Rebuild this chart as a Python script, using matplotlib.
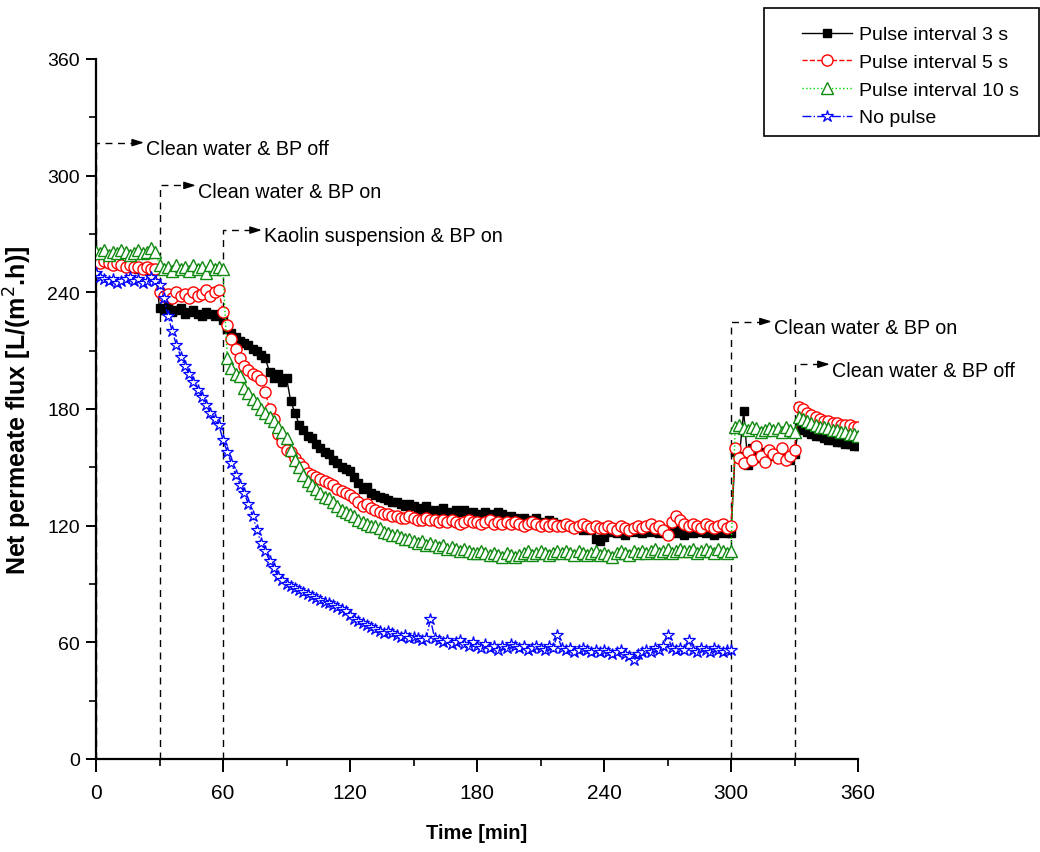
import matplotlib
matplotlib.use("Agg")
import matplotlib.pyplot as plt
from matplotlib.patches import Rectangle

# Datos (flujo neto en L/(m2.h), cada 2 min)
tiempo = list(range(0, 361, 2))
tiempo_sin_pulso = list(range(0, 301, 2))

pulso_3s = [
    257, 256, 255, 256, 254, 255, 254, 253, 254, 253,   # 0
    252, 253, 252, 251, 252, 232, 231, 233, 230, 231,   # 20
    232, 229, 230, 231, 229, 228, 230, 229, 228, 229,   # 40
    226, 221, 219, 217, 215, 214, 213, 211, 210, 208,   # 60
    206, 199, 196, 198, 194, 196, 184, 178, 172, 169,   # 80
    166, 165, 162, 160, 158, 157, 154, 152, 150, 149,   # 100
    148, 145, 142, 139, 140, 137, 136, 135, 134, 133,   # 120
    132, 132, 131, 130, 131, 130, 129, 128, 130, 128,   # 140
    127, 128, 129, 127, 126, 128, 127, 128, 126, 127,   # 160
    126, 125, 127, 126, 125, 127, 126, 124, 125, 124,   # 180
    123, 124, 122, 123, 124, 122, 121, 123, 122, 121,   # 200
    120, 121, 120, 119, 120, 118, 119, 118, 113, 112,   # 220
    114, 118, 117, 116, 118, 115, 117, 118, 117, 116,   # 240
    118, 117, 119, 116, 117, 118, 117, 116, 118, 115,   # 260
    117, 116, 118, 117, 116, 117, 115, 116, 117, 116,   # 280
    116, 158, 156, 179, 151, 160, 157, 155, 158, 156,   # 300
    157, 155, 158, 156, 154, 157, 170, 169, 168, 167,   # 320
    166, 166, 165, 164, 164, 163, 163, 162, 162, 161,   # 340
    161,
]
pulso_5s = [
    256, 255, 256, 255, 254, 255, 254, 253, 254, 253,
    253, 252, 253, 252, 252, 240, 238, 239, 237, 240,
    238, 239, 237, 240, 238, 239, 241, 238, 240, 241,
    230, 223, 216, 211, 206, 202, 200, 198, 197, 195,
    189, 180, 175, 167, 163, 159, 158, 155, 152, 150,
    147, 146, 145, 144, 143, 142, 141, 139, 138, 137,
    136, 134, 132, 130, 131, 129, 128, 127, 126, 126,
    125, 125, 124, 124, 125, 124, 123, 123, 124, 123,
    123, 122, 123, 122, 123, 122, 121, 122, 123, 122,
    122, 121, 122, 123, 121, 122, 121, 122, 121, 122,
    121, 120, 121, 122, 121, 120, 121, 120, 121, 120,
    120, 121, 120, 119, 120, 121, 120, 119, 120, 119,
    119, 120, 119, 118, 120, 119, 118, 119, 120, 119,
    120, 121, 119, 120, 118, 115, 122, 125, 123, 121,
    120, 121, 120, 119, 121, 120, 119, 120, 121, 119,
    120, 160, 155, 152, 158, 154, 161, 156, 153, 159,
    157, 155, 160, 154, 156, 159, 181, 180, 178, 177,
    176, 175, 174, 174, 173, 173, 172, 172, 172, 171,
    171,
]
pulso_10s = [
    261, 260, 262, 259, 261, 260, 262, 261, 259, 260,
    262, 260, 261, 263, 261, 254, 252, 253, 251, 254,
    252, 253, 251, 254, 252, 253, 250, 254, 252, 253,
    252, 206, 201, 198, 197, 191, 188, 185, 183, 180,
    178, 176, 174, 171, 168, 165, 159, 154, 150, 146,
    143, 141, 139, 137, 135, 134, 132, 130, 128, 127,
    126, 125, 123, 122, 121, 120, 120, 119, 117, 116,
    115, 115, 114, 113, 113, 112, 111, 112, 110, 111,
    110, 109, 110, 108, 109, 108, 107, 108, 107, 106,
    106, 107, 106, 105, 106, 105, 104, 106, 105, 104,
    105, 106, 107, 105, 106, 107, 106, 105, 106, 107,
    106, 107, 106, 105, 107, 106, 105, 106, 107, 105,
    106, 105, 104, 106, 107, 106, 105, 107, 106, 107,
    106, 107, 108, 106, 107, 108, 106, 107, 108, 107,
    107, 108, 106, 107, 108, 107, 106, 108, 107, 106,
    107, 171, 172, 170, 169, 171, 170, 168, 169, 170,
    169, 170, 168, 171, 169, 168, 176, 175, 174, 173,
    172, 171, 171, 170, 169, 169, 168, 168, 167, 167,
    166,
]
sin_pulso = [
    250, 248, 247, 246, 247, 245, 246, 247, 248, 246,
    247, 245, 246, 248, 246, 244, 237, 228, 220, 213,
    207, 202, 198, 194, 190, 186, 182, 178, 175, 172,
    164, 158, 152, 146, 141, 137, 131, 125, 118, 111,
    107, 102, 98, 94, 92, 90, 89, 88, 87, 86,
    85, 84, 83, 82, 81, 80, 79, 78, 77, 76,
    74, 72, 71, 70, 69, 68, 67, 66, 65, 66,
    65, 64, 63, 64, 62, 63, 62, 61, 62, 72,
    62, 61, 60, 61, 59, 60, 61, 59, 58, 60,
    58, 57, 59, 57, 58, 56, 58, 57, 59, 58,
    57, 58, 56, 57, 58, 57, 56, 58, 57, 64,
    57, 56, 57, 55, 56, 57, 56, 55, 56, 55,
    56, 55, 54, 55, 56, 54, 53, 51, 54, 55,
    56, 55, 57, 56, 58, 64, 57, 56, 57, 56,
    61, 56, 55, 57, 56, 55, 57, 56, 55, 56,
    56,
]

# Anotaciones: tiempo del cambio, altura de la flecha, texto
cambios_t = [0, 30, 60, 300, 330]
cambios_y = [317, 295, 272, 225, 203]
cambios_txt = ["Clean water & BP off", "Clean water & BP on",
               "Kaolin suspension & BP on", "Clean water & BP on",
               "Clean water & BP off"]
largo_flecha = [22.7, 17.2, 18.4, 19.3, 16.7]

plt.rcParams["font.family"] = ["Liberation Sans", "DejaVu Sans"]

fig = plt.figure(figsize=(10.4, 8.53), dpi=100)
ax = fig.add_axes([96 / 1040, 93 / 853, 762 / 1040, 700 / 853])

ax.plot(tiempo, pulso_3s, color="black", lw=1, ls="-", marker="s", ms=6,
        mfc="black", mec="black", label="Pulse interval 3 s", zorder=3)
ax.plot(tiempo, pulso_5s, color="red", lw=1, ls="--", marker="o", ms=8,
        mfc="white", mec="red", mew=1, label="Pulse interval 5 s", zorder=4)
ax.plot(tiempo, pulso_10s, color="#00dd00", lw=1, ls=":", marker="^", ms=8,
        mfc="white", mec="#108a10", mew=1, label="Pulse interval 10 s", zorder=5)
ax.plot(tiempo_sin_pulso, sin_pulso, color="blue", lw=1, ls="-.", marker="*",
        ms=9, mfc="white", mec="blue", mew=0.9, label="No pulse", zorder=6)

# líneas de cambio de condiciones
for t, y, txt, d in zip(cambios_t, cambios_y, cambios_txt, largo_flecha):
    ax.plot([t, t, t + d - 3], [0, y, y], color="black", lw=1,
            ls=(0, (5, 4)), zorder=2, clip_on=False)
    ax.annotate("", xy=(t + d, y), xytext=(t + d - 4, y),
                arrowprops=dict(arrowstyle="-|>,head_length=0.7,head_width=0.22",
                                color="black", lw=1, shrinkA=0, shrinkB=0))
    ax.text(t + d + 0.8, y - 2, txt, fontsize=14.2, va="center_baseline",
            ha="left")

ax.set_xlim(0, 360)
ax.set_ylim(0, 360)
ax.set_xticks(range(0, 361, 60))
ax.set_yticks(range(0, 361, 60))
ax.set_xticks(range(30, 361, 60), minor=True)
ax.set_yticks(range(30, 361, 60), minor=True)
for s in ["top", "right"]:
    ax.spines[s].set_visible(False)
for s in ["left", "bottom"]:
    ax.spines[s].set_linewidth(1.6)
ax.tick_params(axis="x", which="major", direction="out", length=9.4, width=1.4)
ax.tick_params(axis="x", which="minor", direction="out", length=5, width=1.2)
ax.tick_params(axis="y", which="major", direction="out", length=7.2, width=1.4)
ax.tick_params(axis="y", which="minor", direction="out", length=5, width=1.2)
ax.tick_params(axis="x", labelsize=15, pad=8)
ax.tick_params(axis="y", labelsize=14, pad=4.3)

ax.set_xlabel("Time [min]", fontsize=14.5, fontweight="bold")
ax.xaxis.set_label_coords(0.5, -0.092)
ax.set_ylabel("Net permeate flux [L/(m$^2$.h)]", fontsize=18,
              fontweight="bold")
ax.yaxis.set_label_coords(-0.0815, 0.5)

# leyenda con marco propio
fig.patches.append(Rectangle((764 / 1040, 1 - 137 / 853), 275 / 1040, 128 / 853,
                             transform=fig.transFigure, fill=False,
                             edgecolor="black", lw=1.2))
h, l = ax.get_legend_handles_labels()
fig.legend(h, l, loc="upper left", bbox_to_anchor=(792 / 1040, 1 - 17 / 853),
           frameon=False, fontsize=14, handlelength=2.6, handletextpad=0.36,
           labelspacing=0.52, borderpad=0, numpoints=1)

fig.savefig("out.png", dpi=100)
